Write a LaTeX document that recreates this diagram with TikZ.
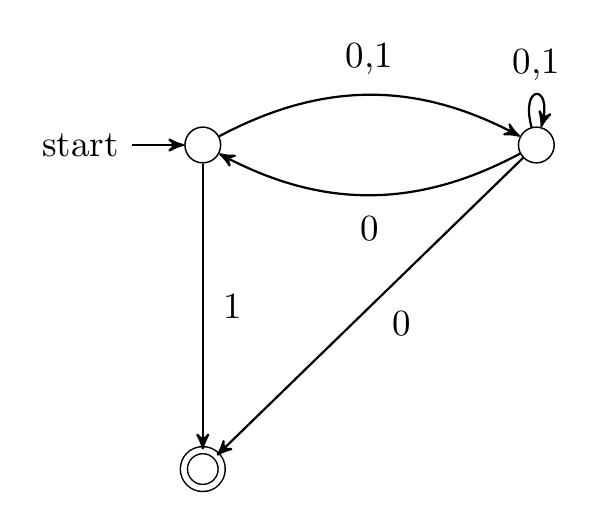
\documentclass[tikz,border=0pt]{standalone}
\usetikzlibrary{arrows, automata, positioning}
\begin{document}
\begin{tikzpicture}[
        >=stealth',
        state/.style={circle, draw, minimum size=0.34cm, inner sep=0pt},
        accept/.style={state, double, double distance=1.5pt, minimum size=0.36cm},
        edge/.style={->, semithick}
    ]
        \useasboundingbox (-1.93,1.38) rectangle (3.78,-3.62);
        % States
        \node[state] (q0) at (0,0) {};
        \node[state, right=2.82cm of q0] (q1) {};
        \node[accept, below=2.72cm of q0] (q2) {};
        \node[left=0.5cm of q0] (start) {start};

        \draw[edge] (start) -- (q0);
        \draw[edge] (q0) to[bend left=28] node[above=2pt] {0,1} (q1);
        \draw[edge] (q1) to[bend left=28] node[below=2pt] {0} (q0);
        \draw[edge] (q1) to[loop above, looseness=12] node[above] {0,1} (q1);
        \draw[edge] (q0) -- node[right=2pt] {1} (q2);
        \draw[edge] (q1) -- node[below right=0pt and 0pt, pos=0.47] {0} (q2);
    \end{tikzpicture}
\end{document}
